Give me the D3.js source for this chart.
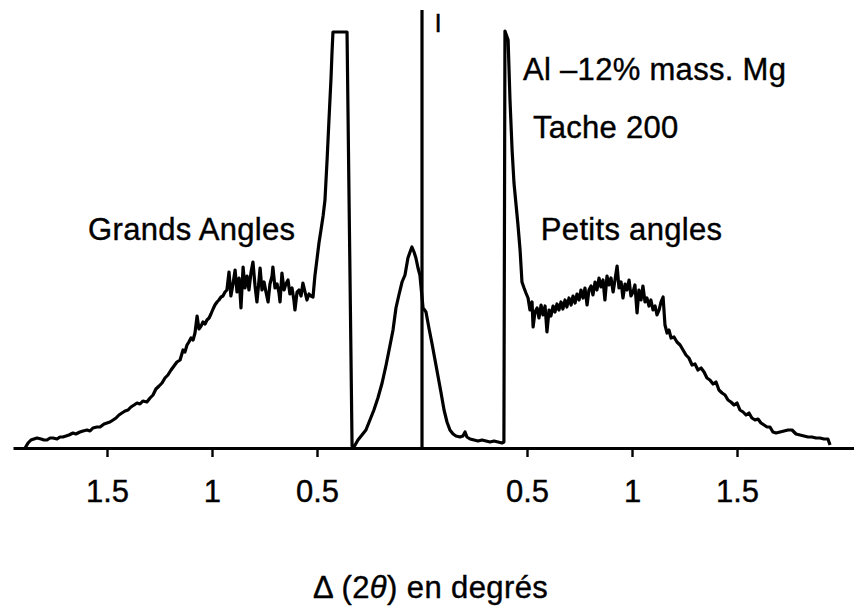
<!DOCTYPE html>
<html>
<head>
  <meta charset="utf-8">
  <title>Al-12% mass. Mg, tache 200</title>
  <script src="https://d3js.org/d3.v7.min.js"></script>
  <style>
    body { margin: 0; background: #fff; }
    text { font-family: "Liberation Sans", Arial, sans-serif; fill: #000; stroke: #000; stroke-width: 0.4px; }
  </style>
</head>
<body>
  <div id="chart"></div>

  <script>
    // Profile: [delta 2theta in degrees, intensity in arbitrary units]
    // left wing (grands angles), including the rise to the saturated peak
    const grandsAngles = [
      [-1.890,0],[-1.876,1.25],[-1.862,2],[-1.848,2.25],[-1.833,2.5],[-1.814,2.25],[-1.800,2],[-1.786,2],
      [-1.771,2.5],[-1.757,2.5],[-1.738,2.25],[-1.724,2.75],[-1.710,2.75],[-1.695,3],[-1.681,3.25],[-1.662,3.75],
      [-1.648,3.5],[-1.629,4],[-1.614,4.25],[-1.595,4.5],[-1.581,4.25],[-1.567,5],[-1.548,5.25],[-1.533,5.25],
      [-1.514,6],[-1.500,6.25],[-1.486,6.5],[-1.471,7],[-1.457,7.5],[-1.443,8.25],[-1.429,8.75],[-1.414,9.25],
      [-1.400,9.5],[-1.386,10.25],[-1.371,10.75],[-1.357,11.25],[-1.343,11],[-1.329,11.75],[-1.310,11.5],[-1.295,12.5],
      [-1.281,13.25],[-1.267,14.75],[-1.252,15.5],[-1.238,16.25],[-1.224,17.5],[-1.210,18.25],[-1.195,19.5],[-1.181,20.5],
      [-1.167,21.5],[-1.152,22],[-1.138,24.5],[-1.129,24],[-1.119,25.75],[-1.110,26.5],[-1.100,27.5],[-1.090,27],
      [-1.081,28.75],[-1.071,33],[-1.062,29.75],[-1.052,30.5],[-1.043,31.5],[-1.033,31],[-1.024,32],[-1.014,32.5],
      [-1.005,33.5],[-0.995,34.75],[-0.986,35.75],[-0.976,36.5],[-0.967,37],[-0.957,37.75],[-0.948,38],[-0.938,39],
      [-0.929,39.5],[-0.919,44],[-0.910,38],[-0.900,41],[-0.890,44.5],[-0.881,39],[-0.871,42.5],[-0.862,35],
      [-0.852,45.25],[-0.843,40],[-0.833,43],[-0.824,39.5],[-0.814,44],[-0.805,46.5],[-0.795,40.5],[-0.786,36.5],
      [-0.776,42],[-0.771,45],[-0.762,39.5],[-0.752,41.5],[-0.743,39],[-0.733,36.5],[-0.724,41],[-0.714,43],
      [-0.710,45.25],[-0.700,40],[-0.690,41],[-0.681,38.75],[-0.676,36.5],[-0.667,43.75],[-0.657,39.5],[-0.648,41],
      [-0.638,42],[-0.629,38.5],[-0.619,40],[-0.610,37],[-0.605,34.5],[-0.595,39],[-0.586,39.5],[-0.576,38],
      [-0.567,41.25],[-0.557,39],[-0.548,37],[-0.538,38.5],[-0.529,38],[-0.519,37.75],
      [-0.510,43],[-0.500,47.25],[-0.490,51.5],[-0.481,54.5],[-0.471,58],[-0.462,62],[-0.452,72],[-0.443,82],
      [-0.433,92.75],[-0.429,98.25],[-0.424,104]
    ];

    // saturated (clipped) peak
    const saturation = [[-0.424,104],[-0.357,104],[-0.333,0.5]];

    // central bump around the direct beam
    const centre = [
      [-0.324,0.25],[-0.305,2],[-0.286,3.25],[-0.267,4.5],[-0.248,7],[-0.229,9.5],[-0.210,12.5],[-0.190,16.25],
      [-0.171,20.75],[-0.152,25.75],[-0.138,29.5],[-0.124,35],[-0.110,38.25],[-0.095,41.5],[-0.081,43.25],[-0.067,47.5],
      [-0.057,49],[-0.048,50.25],[-0.038,49],[-0.029,47.5],[-0.019,45],[-0.010,43.25],[0.005,35],[0.019,34],
      [0.033,30],[0.048,26],[0.062,22],[0.076,18],[0.090,14],[0.105,9.5],[0.119,6.5],[0.133,4.5],
      [0.148,3.5],[0.162,3],[0.181,2.75],[0.195,3],[0.205,4],[0.214,2.75],[0.229,2.25],[0.248,2],
      [0.267,1.75],[0.286,2],[0.305,1.75],[0.324,1.5],[0.343,1.75],[0.362,1.5],[0.381,1.25],[0.390,1.5]
    ];

    // right wing (petits angles), starting at the sharp peak
    const petitsAngles = [
      [0.395,104.25],[0.410,102],[0.419,87],[0.429,74.5],[0.438,66.25],[0.448,60.75],[0.457,55.75],[0.467,49.5],
      [0.476,41.5],[0.486,40],[0.495,38.75],[0.505,37.5],[0.514,34.5],[0.524,36.5],[0.529,30.25],[0.538,34],
      [0.548,35],[0.557,32.5],[0.567,35.75],[0.576,33.25],[0.586,35.5],[0.595,29],[0.605,34.5],[0.614,33],
      [0.624,35.5],[0.633,34],[0.643,36],[0.652,34.5],[0.662,36.5],[0.671,34.75],[0.681,37],[0.690,35.25],
      [0.700,37.5],[0.710,35.75],[0.719,38],[0.729,36.25],[0.738,38.5],[0.748,37],[0.757,39.5],[0.767,37.5],
      [0.776,40],[0.786,35.75],[0.795,39.5],[0.805,40.5],[0.814,38.25],[0.824,41.5],[0.833,39.5],[0.843,42.5],
      [0.852,40.25],[0.862,42],[0.871,37],[0.881,43],[0.890,40.75],[0.900,42.5],[0.910,39],[0.919,42],
      [0.929,45.5],[0.938,40],[0.948,41.5],[0.957,37.5],[0.967,41],[0.976,39.5],[0.986,42],[0.995,38],
      [1.005,39],[1.014,40.75],[1.024,33.75],[1.033,39.5],[1.043,37],[1.052,40.5],[1.062,36.5],[1.071,37.5],
      [1.081,35.5],[1.090,37],[1.100,34.5],[1.110,35.5],[1.119,33.25],[1.129,34.5],[1.138,36.5],[1.148,37.75],
      [1.157,30.75],[1.167,28.75],[1.176,29.5],[1.186,27.5],[1.200,27.75],[1.214,26.5],[1.229,25.75],[1.243,24.5],
      [1.257,23.25],[1.271,22.5],[1.286,20.75],[1.300,21],[1.314,19.5],[1.329,20],[1.343,19],[1.357,17.5],
      [1.371,17],[1.386,16],[1.400,16.5],[1.414,14.5],[1.429,13.75],[1.443,13.25],[1.457,12],[1.471,11.5],
      [1.486,10.75],[1.500,11.25],[1.514,9.5],[1.529,9],[1.543,8.25],[1.557,8.75],[1.571,7.5],[1.586,7],
      [1.600,7.25],[1.614,6.25],[1.629,5.75],[1.643,5.25],[1.657,5.25],[1.671,4],[1.686,3.75],[1.705,4],
      [1.724,4.25],[1.743,4.5],[1.762,4.5],[1.781,3.5],[1.800,3.25],[1.819,3],[1.838,2.75],[1.857,2.75],
      [1.876,2.5],[1.895,2.5],[1.914,2.25],[1.933,2.25],[1.943,0.75]
    ];

    // direct beam line at 0
    const directBeam = [[0,0],[0,109.5]];

    const tickValues = [-1.5, -1, -0.5, 0.5, 1, 1.5];
    const labels = [
      { text: "Grands Angles", x: -1.59, y: 52 },
      { text: "Petits angles", x: 0.566, y: 52 },
      { text: "Al \u201312% mass. Mg", x: 0.481, y: 92 },
      { text: "Tache 200", x: 0.528, y: 77.5 }
    ];

    const width = 854, height = 607;

    const svg = d3.select("#chart")
      .append("svg")
      .attr("width", width)
      .attr("height", height);

    svg.append("rect").attr("width", width).attr("height", height).attr("fill", "#fff");

    const x = d3.scaleLinear().domain([-1.9476, 2.0571]).range([13, 854]);
    const y = d3.scaleLinear().domain([0, 110]).range([448, 8]);

    const line = d3.line().x(d => x(d[0])).y(d => y(d[1]));

    const profile = grandsAngles.concat(saturation, centre, petitsAngles);

    svg.append("path")
      .datum(profile)
      .attr("d", line)
      .attr("fill", "none")
      .attr("stroke", "#000")
      .attr("stroke-width", 3.2)
      .attr("stroke-linejoin", "round");

    svg.append("path")
      .datum(directBeam)
      .attr("d", line)
      .attr("fill", "none")
      .attr("stroke", "#000")
      .attr("stroke-width", 3.2);

    // x axis, labels mirrored on both sides of 0
    const axis = svg.append("g")
      .attr("transform", "translate(0," + y(0) + ")")
      .call(d3.axisBottom(x)
        .tickValues(tickValues)
        .tickFormat(d => d3.format("")(Math.abs(d)))
        .tickSize(9)
        .tickSizeOuter(0)
        .tickPadding(23));

    axis.select(".domain").attr("stroke-width", 3.2);
    axis.selectAll(".tick line").attr("stroke-width", 2.4);
    axis.selectAll(".tick text")
      .attr("font-size", 31)
      .attr("font-family", "Liberation Sans, Arial, sans-serif");

    // annotations
    svg.selectAll(".note")
      .data(labels)
      .enter()
      .append("text")
      .attr("class", "note")
      .attr("x", d => x(d.x))
      .attr("y", d => y(d.y))
      .attr("font-size", 31)
      .attr("letter-spacing", 0.3)
      .text(d => d.text);

    svg.append("text")
      .attr("x", 438)
      .attr("y", 32)
      .attr("text-anchor", "middle")
      .attr("font-size", 26)
      .text("I");

    // axis title
    const title = svg.append("text")
      .attr("x", 313)
      .attr("y", 598)
      .attr("font-size", 31)
      .attr("letter-spacing", 0.4);
    title.append("tspan").text("\u0394 (2");
    title.append("tspan").attr("font-style", "italic").text("\u03b8");
    title.append("tspan").text(") en degrés");
  </script>
</body>
</html>
